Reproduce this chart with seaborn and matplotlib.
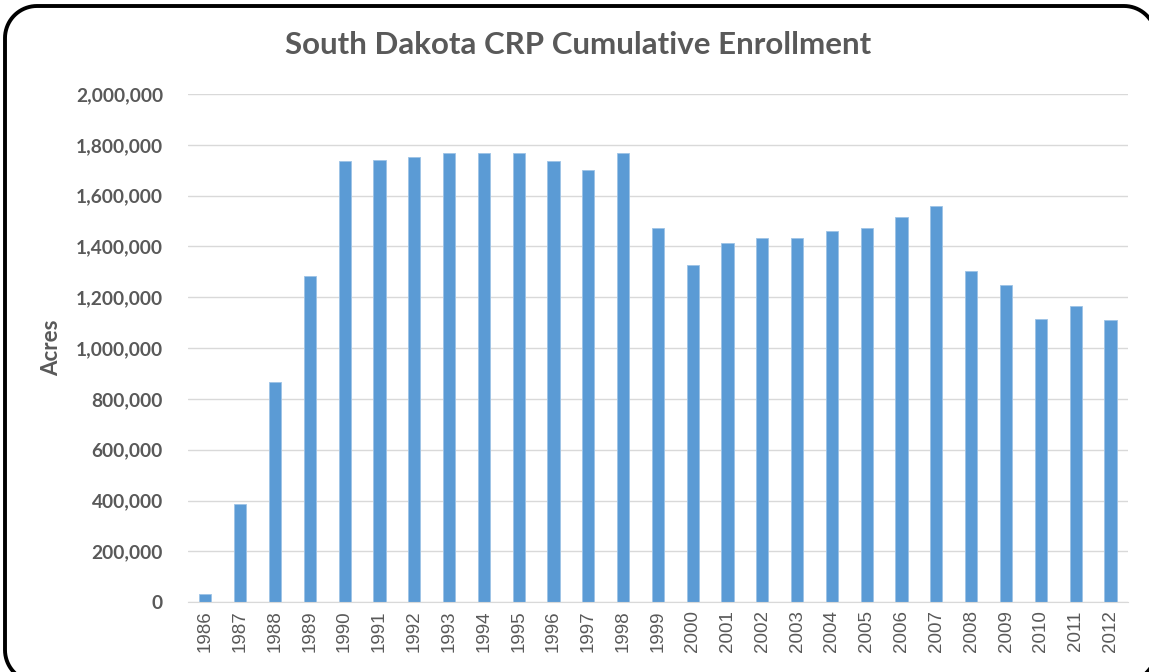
import matplotlib
matplotlib.use("Agg")
import matplotlib.pyplot as plt
import seaborn as sns
import pandas as pd
import numpy as np
from matplotlib.lines import Line2D
from matplotlib.transforms import IdentityTransform
from matplotlib.ticker import FuncFormatter

years = [str(y) for y in range(1986, 2013)]
acres = [31500, 387000, 868000, 1285000, 1735000, 1739000, 1752000, 1770000,
         1770000, 1770000, 1735000, 1700000, 1770000, 1474000, 1326000, 1415000,
         1433000, 1433000, 1461000, 1474000, 1515000, 1559000, 1303000, 1249000,
         1114000, 1164000, 1110000]

df = pd.DataFrame({"year": years, "acres": acres})

sns.set_style("white")
plt.rcParams['font.family'] = ['Lato', 'DejaVu Sans']

grey = "#595959"
fig = plt.figure(figsize=(11.49, 6.72), dpi=100)
ax = fig.add_axes([0.1636, 0.104, 0.818, 0.756])

sns.barplot(data=df, x="year", y="acres", color="#5b9bd5", width=0.35,
            saturation=1, edgecolor="#9dc3e6", linewidth=0.6, ax=ax)

ax.set_ylim(0, 2000000)
ax.set_yticks(range(0, 2000001, 200000))
ax.yaxis.set_major_formatter(FuncFormatter(lambda v, p: f"{int(v):,}"))
ax.grid(axis="y", color="#d9d9d9", linewidth=1)
ax.set_axisbelow(True)
for s in ["top", "right", "left"]:
    ax.spines[s].set_visible(False)
ax.spines["bottom"].set_color("#d9d9d9")
ax.tick_params(axis="both", length=0)
ax.tick_params(axis="y", pad=18)
ax.tick_params(axis="x", pad=6)

for lab in ax.get_yticklabels():
    lab.set_fontweight("bold")
    lab.set_fontsize(13.8)
    lab.set_color(grey)
for lab in ax.get_xticklabels():
    lab.set_rotation(90)
    lab.set_fontsize(13.5)
    lab.set_color(grey)
    lab.set_family("Liberation Sans")

ax.set_xlabel("")
ax.set_ylabel("Acres", fontsize=16, fontweight="bold", color=grey, labelpad=10)

fig.text(0.503, 0.933, "South Dakota CRP Cumulative Enrollment", ha="center", va="center",
         fontsize=22.5, fontweight="bold", color=grey)

# rounded outer frame in pixels, running off the bottom and right edges
x0, x1, y0, y1, r = 5, 1156, -10, 666, 32
t = np.linspace(0, np.pi / 2, 20)
xs, ys = [], []
for cx, cy, a0 in [(x1 - r, y1 - r, 0), (x0 + r, y1 - r, np.pi / 2),
                   (x0 + r, y0 + r, np.pi), (x1 - r, y0 + r, 1.5 * np.pi)]:
    xs += list(cx + r * np.cos(a0 + t))
    ys += list(cy + r * np.sin(a0 + t))
xs.append(xs[0])
ys.append(ys[0])
fig.lines.append(Line2D(xs, ys, transform=IdentityTransform(), color="black",
                        linewidth=2.8, solid_joinstyle="round"))

fig.savefig("out.png", dpi=100)
